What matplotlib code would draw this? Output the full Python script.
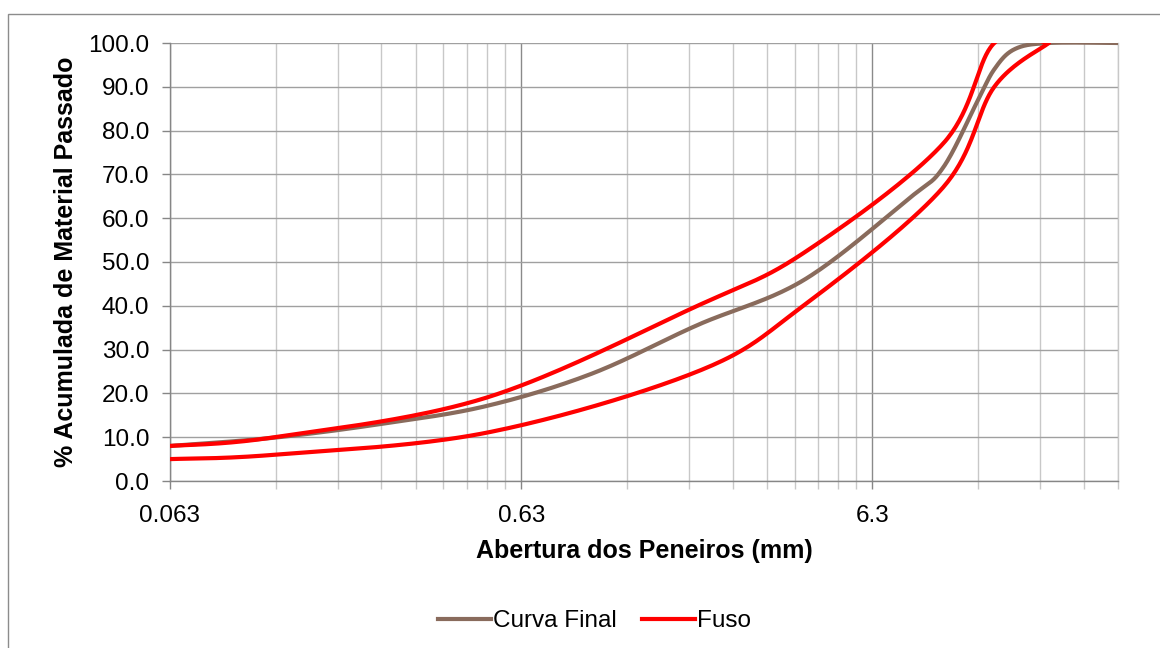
import numpy as np
import matplotlib
matplotlib.use("Agg")
import matplotlib.pyplot as plt
from matplotlib.lines import Line2D
from matplotlib.patches import Rectangle
from matplotlib.ticker import NullFormatter

# ---------------- data ----------------
sieves_curve = [0.063, 0.125, 0.25, 0.5, 1, 2, 4, 8, 10, 12.5, 14, 16, 20, 31.5]
curva_final = [8.0, 9.9, 13.0, 17.1, 24.5, 35.6, 45.8, 64.5, 71.5, 86.5, 94.0, 98.6, 100.0, 100.0]

sieves_fuso = [0.063, 0.125, 0.5, 2, 4, 10, 14, 20]
fuso_inf = [5, 6, 11, 25, 40, 67, 90, 100]
fuso_sup = [8, 10, 19, 40, 52, 77, 100, 100]

x_ticks = [0.063, 0.63, 6.3]
x_tick_labels = ["0.063", "0.63", "6.3"]
y_ticks = [0, 10, 20, 30, 40, 50, 60, 70, 80, 90, 100]

# ---------------- figure ----------------
plt.rcParams['font.family'] = ['Liberation Sans', 'DejaVu Sans']
W, H = 1160, 648
fig = plt.figure(figsize=(W / 100, H / 100), dpi=100)
fig.patch.set_facecolor('white')

# chart outer border
fig.patches.append(Rectangle((8 / W, 0 - 0.05), 1.1, 1 - 14 / H + 0.05,
                             transform=fig.transFigure, fill=False,
                             edgecolor='#8C8C8C', linewidth=1.0, zorder=0))

L, R, T, B = 170, 1118, 43, 481
ax = fig.add_axes([L / W, 1 - B / H, (R - L) / W, (B - T) / H])
ax.set_xscale('log')
ax.set_xlim(0.063, 31.5)
ax.set_ylim(0, 100)

# ticks
minor = []
for dec in [0.063, 0.63, 6.3]:
    for k in range(2, 10):
        v = round(dec * k, 4)
        if v <= 31.5:
            minor.append(v)
ax.set_xticks(x_ticks)
ax.set_xticklabels(x_tick_labels)
ax.set_xticks(minor, minor=True)
ax.xaxis.set_minor_formatter(NullFormatter())
ax.set_yticks(y_ticks)
ax.set_yticklabels([f"{v:.1f}" for v in y_ticks])

ax.tick_params(axis='both', which='major', labelsize=17.5, colors='#868686',
               labelcolor='black', length=6, width=1, direction='out')
ax.tick_params(axis='x', which='minor', length=6, width=1, colors='#C8C8C8')
ax.tick_params(axis='x', which='major', pad=11)
ax.tick_params(axis='y', which='major', pad=9)

ax.grid(True, axis='y', which='major', color='#A0A0A0', linewidth=1.0)
ax.grid(True, axis='x', which='major', color='#8A8A8A', linewidth=1.0)
ax.grid(True, axis='x', which='minor', color='#C8C8C8', linewidth=1.0)
ax.set_axisbelow(True)

ax.spines['top'].set_visible(False)
ax.spines['right'].set_color('#C8C8C8')
ax.spines['left'].set_color('#868686')
ax.spines['bottom'].set_color('#868686')
for s in ax.spines.values():
    s.set_linewidth(1.0)

ax.set_xlabel('Abertura dos Peneiros (mm)', fontsize=18, fontweight='bold', labelpad=9)
ax.set_ylabel('% Acumulada de Material Passado', fontsize=18, fontweight='bold', labelpad=7)


def smooth(ax, xs, ys, n=40):
    """Excel-like smoothed line (Bezier / Catmull-Rom in display space)."""
    P = ax.transData.transform(np.column_stack([xs, ys]))
    m = len(P)
    out = [P[0]]
    t = np.linspace(0, 1, n)[1:, None]
    for i in range(m - 1):
        p0 = P[i - 1] if i > 0 else P[i]
        p1, p2 = P[i], P[i + 1]
        p3 = P[i + 2] if i + 2 < m else P[i + 1]
        c1 = p1 + (p2 - p0) / 6.0
        c2 = p2 - (p3 - p1) / 6.0
        seg = ((1 - t) ** 3) * p1 + 3 * ((1 - t) ** 2) * t * c1 + 3 * (1 - t) * t ** 2 * c2 + t ** 3 * p2
        out.extend(seg)
    out = np.array(out)
    d = ax.transData.inverted().transform(out)
    return d[:, 0], d[:, 1]


brown = '#896B5C'
red = '#FF0000'
lw = 3.0

xb, yb = smooth(ax, sieves_curve, curva_final)
ax.plot(xb, yb, color=brown, lw=lw, solid_capstyle='round', zorder=3)
xs, ys = smooth(ax, sieves_fuso, fuso_sup)
ax.plot(xs, ys, color=red, lw=lw, solid_capstyle='round', zorder=4)
xi, yi = smooth(ax, sieves_fuso, fuso_inf)
ax.plot(xi, yi, color=red, lw=lw, solid_capstyle='round', zorder=4)

handles = [Line2D([], [], color=brown, lw=lw), Line2D([], [], color=red, lw=lw)]
fig.legend(handles, ['Curva Final', 'Fuso'], loc='center',
           bbox_to_anchor=(594.5 / W, 1 - 621 / H), ncol=2, frameon=False,
           fontsize=17.5, handlelength=2.2, handletextpad=0.1, columnspacing=1.0)

fig.savefig('out.png', dpi=100, facecolor='white')
